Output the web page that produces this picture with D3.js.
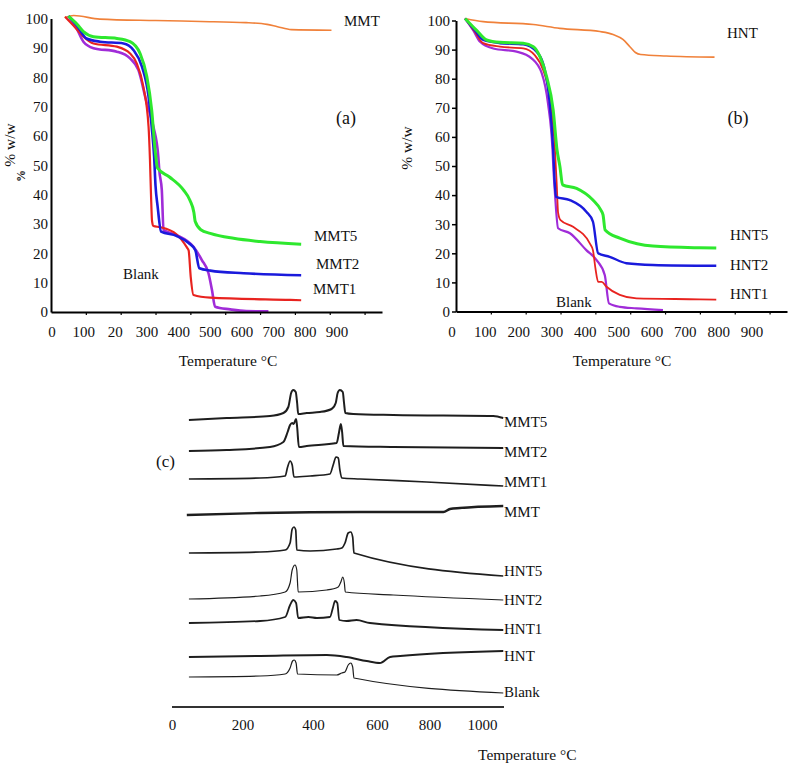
<!DOCTYPE html>
<html>
<head>
<meta charset="utf-8">
<script src="https://cdn.jsdelivr.net/npm/d3@7"></script>
<style>
body { margin: 0; background: #fff; }
text { font-family: "Liberation Serif", "Times New Roman", serif; fill: #111; }
</style>
</head>
<body>
<svg width="796" height="772"></svg>
<script>
// ---- data: TGA, panel (a) [temperature, % w/w]
var mmtA = [[40,100.3],[65,101],[140,99.8],[300,99.3],[430,99.0],[560,98.6],[620,98.0],[650,97.2],[690,96.2],[805,96.0]];
var mmt5A = [[50,100.8],[75,98],[93,95.5],[122,93.8],[189,93.2],[227,92.1],[256,88],[275,80.2],[289,68.8],[299,55],[306,49],[340,46],[380,41.6],[399,38],[410,34],[414,30.8],[430,28],[457,26.8],[524,25.1],[600,24],[718,23.1]];
var mmt2A = [[50,100.8],[75,97.5],[102,93.2],[141,92.1],[208,91.5],[237,89.2],[261,83.6],[280,73.4],[289,63.1],[296,52.9],[300,43],[306,36],[316,27.4],[361,25.9],[395,23.5],[414,21.1],[426,14.9],[457,14.1],[553,13.2],[718,12.5]];
var mmt1A = [[40,100.6],[65,97.5],[93,93.8],[122,91.5],[189,90.4],[227,88.1],[246,84.7],[265,76.8],[280,63.1],[284,52],[287,40],[290,31],[294,29.3],[313,28.9],[360,26.5],[390,22],[395,21],[401,12],[409,5.8],[457,4.9],[687,4.1],[718,4.0]];
var blankA = [[50,100.8],[70,97.5],[93,92.1],[122,89.9],[189,88.7],[227,86.4],[251,82.4],[275,71.1],[294,63.1],[308,52.9],[311,48],[318,41.6],[323,27.9],[361,26.2],[409,22.2],[433,17.7],[452,13.2],[462,7.5],[471,1.8],[514,0.9],[560,0.3],[624,0.2]];

// ---- data: TGA, panel (b)
var hntB = [[26,100.7],[78,99.6],[222,98.6],[298,97.3],[413,96.2],[451,95.2],[479,93.5],[499,91],[515,89],[530,88.3],[604,87.8],[742,87.4]];
var hnt5B = [[26,100.7],[60,96.5],[88,93.3],[126,92.5],[193,92.2],[222,91],[241,87.6],[260,80.7],[279,69.2],[290,55.5],[298,50],[306,43.5],[346,42.3],[393,38.3],[415,35],[422,33.2],[428,28],[470,25.2],[520,23.3],[565,22.5],[699,21.9],[747,21.8]];
var hnt2B = [[26,100.7],[55,96.5],[78,93.3],[126,92.2],[193,91.8],[231,89.3],[255,83],[269,71.5],[279,55.5],[283,45],[287,39.4],[327,38.3],[374,34.3],[393,30.9],[408,20],[441,18.8],[489,16.6],[565,16],[747,15.7]];
var hnt1B = [[26,100.7],[55,96],[78,92.2],[126,91],[193,90.4],[226,88.1],[250,83],[269,73.8],[284,55.5],[289,44],[293,34],[300,31.4],[336,29.1],[384,23.4],[393,21.1],[400,15],[408,10.2],[418,10.2],[432,8.5],[470,5.7],[518,4.5],[699,4.2],[747,4.1]];
var blankB = [[26,100.7],[50,96.5],[69,92.7],[107,90.4],[174,89.3],[217,87],[246,81.9],[264,71.5],[277,55.5],[280,48],[284,40.6],[293,28.6],[327,26.9],[374,21.1],[403,17.7],[427,12.5],[439,2.8],[470,1.6],[518,1.1],[594,0.5]];

// ---- data: DTG, panel (c) [temperature, signal (arbitrary, stacked)]
var dtgMMT5 = [[48,287],[155,289],[278,291],[316,294],[330,300],[338,314],[344,317],[351,315],[355,304],[358,293],[382,294],[422,295],[458,298],[471,304],[477,314],[484,317],[493,315],[497,304],[501,294],[526,293],[662,292],[1043,291],[1081,289]];
var dtgMMT2 = [[48,256],[155,257],[278,260],[316,265],[328,275],[335,282],[341,284],[345,283],[352,288],[355,280],[360,260],[382,261],[474,264],[481,274],[487,283],[491,275],[495,261],[662,260],[1081,259]];
var dtgMMT1 = [[48,228],[250,229],[321,231],[328,240],[335,246],[341,242],[346,230],[392,231],[453,233],[463,242],[472,250],[479,249],[484,237],[490,229],[547,228],[789,225],[1081,221]];
var dtgMMT = [[42,192],[250,194],[547,195],[853,195],[878,198],[916,199],[1081,201]];
var dtgHNT5 = [[48,154],[250,155],[321,157],[335,164],[341,178],[346,180],[351,177],[354,157],[392,156],[474,158],[490,159],[500,164],[510,174],[518,175],[524,170],[528,154],[1081,131]];
var dtgHNT2 = [[48,108],[250,111],[321,115],[335,124],[341,137],[349,142],[354,137],[358,115],[443,117],[479,120],[487,125],[493,130],[498,124],[501,115],[662,112],[1081,107]];
var dtgHNT1 = [[48,84],[250,86],[321,90],[335,102],[344,107],[352,104],[358,89],[387,90],[412,89],[453,90],[462,99],[469,106],[476,104],[482,87],[505,86],[536,87],[578,84],[1081,77]];
var dtgHNT = [[48,50],[250,51],[443,52],[505,50],[568,46],[611,44],[650,50],[688,51],[1081,56]];
var dtgBlank = [[48,30],[250,31],[321,33],[335,39],[342,46],[347,47],[352,44],[356,33],[474,32],[490,34],[500,35],[510,42],[518,44],[524,40],[528,29],[1081,14]];

// ---- ticks / labels
var yTicks = [0,10,20,30,40,50,60,70,80,90,100];
var xTickMarks = [100,200,300,400,500,600,700,800,900];
var xLabelsA = ["0","100","20","300","400","500","600","700","800","900"];
var xLabelsB = ["0","100","200","300","400","500","600","700","800","900"];
var dtgTicks = [0,200,400,600,800,1000];

var svg = d3.select("svg");

var colors = { clay: "#f0813a", c5: "#2ee82e", c2: "#1a1adc", c1: "#e8231f", blank: "#a02cd8" };

function drawTga(o) {
    var g = svg.append("g");
    var x = d3.scaleLinear().domain([0, 950]).range([o.x0, o.x0 + 331]);
    var y = d3.scaleLinear().domain([0, 100]).range([o.y0, o.y100]);

    var line = d3.line()
        .x(function(d) { return x(d[0]); })
        .y(function(d) { return y(d[1]); })
        .curve(d3.curveMonotoneX);

    g.selectAll("path.s")
        .data(o.series)
        .enter()
        .append("path")
        .attr("class", "s")
        .attr("d", function(d) { return line(d.values); })
        .attr("fill", "none")
        .attr("stroke", function(d) { return d.color; })
        .attr("stroke-width", function(d) { return d.width; })
        .attr("stroke-linejoin", "round");

    var yAxis = g.append("g")
        .attr("transform", "translate(" + o.x0 + ",0)")
        .call(d3.axisLeft(y).tickValues(yTicks).tickSize(o.yTick).tickSizeOuter(0).tickPadding(o.yTick ? 2 : 3));
    yAxis.select(".domain").attr("stroke", "#000").attr("stroke-width", 2);
    yAxis.selectAll(".tick line").attr("stroke", "#000").attr("stroke-width", 1.5);
    yAxis.selectAll("text").style("font-size", "15px");

    var xAxis = g.append("g")
        .attr("transform", "translate(0," + o.y0 + ")")
        .call(d3.axisBottom(x).tickValues(xTickMarks).tickFormat("").tickSize(3).tickSizeOuter(0));
    xAxis.select(".domain").attr("stroke", "#000").attr("stroke-width", 2);
    xAxis.selectAll(".tick line").attr("stroke", "#000").attr("stroke-width", 1.2);

    var lx = d3.scalePoint().domain(o.xLabels).range(o.labelRange);
    g.selectAll("text.xl")
        .data(o.xLabels)
        .enter()
        .append("text")
        .attr("class", "xl")
        .attr("x", function(d) { return lx(d); })
        .attr("y", 337)
        .attr("text-anchor", "middle")
        .style("font-size", "15px")
        .text(function(d) { return d; });

    g.append("text")
        .attr("x", o.titleX)
        .attr("y", 366)
        .attr("text-anchor", "middle")
        .style("font-size", "15.5px")
        .text("Temperature °C");

    g.append("text")
        .attr("transform", "translate(" + o.yTitleX + "," + o.yTitleY + ") rotate(-90)")
        .attr("text-anchor", "middle")
        .style("font-size", "15.5px")
        .text("% w/w");

    o.notes.forEach(function(n) {
        g.append("text")
            .attr("x", n[1])
            .attr("y", n[2])
            .attr("dy", "0.35em")
            .attr("text-anchor", n[3] || "start")
            .style("font-size", n[4] || "15px")
            .text(n[0]);
    });
    return g;
}

var gA = drawTga({
    x0: 51, y0: 312, y100: 18.5, yTick: 0,
    xLabels: xLabelsA, labelRange: [52, 337],
    titleX: 228, yTitleX: 15, yTitleY: 145,
    series: [
        { values: mmtA, color: colors.clay, width: 1.6 },
        { values: blankA, color: colors.blank, width: 2.6 },
        { values: mmt1A, color: colors.c1, width: 2.2 },
        { values: mmt2A, color: colors.c2, width: 2.6 },
        { values: mmt5A, color: colors.c5, width: 3 }
    ],
    notes: [["MMT", 344, 21], ["MMT5", 314, 236], ["MMT2", 316, 264], ["MMT1", 313, 289],
            ["Blank", 123, 274], ["(a)", 346, 118, "middle", "18px"]]
});
// stray "%" below the axis title, as in the source
gA.append("text")
    .attr("transform", "translate(25,176) rotate(-90)")
    .attr("text-anchor", "middle")
    .style("font-size", "12px")
    .style("font-weight", "bold")
    .text("%");

drawTga({
    x0: 456, y0: 311.5, y100: 20.5, yTick: 4,
    xLabels: xLabelsB, labelRange: [452, 752],
    titleX: 622, yTitleX: 412, yTitleY: 148,
    series: [
        { values: hntB, color: colors.clay, width: 1.6 },
        { values: blankB, color: colors.blank, width: 2.2 },
        { values: hnt1B, color: colors.c1, width: 1.8 },
        { values: hnt2B, color: colors.c2, width: 2.4 },
        { values: hnt5B, color: colors.c5, width: 3 }
    ],
    notes: [["HNT", 727, 33], ["HNT5", 730, 235], ["HNT2", 730, 265], ["HNT1", 730, 294],
            ["Blank", 556, 302], ["(b)", 738, 118, "middle", "18px"]]
});

// ---- panel (c): stacked DTG traces
var dtgSeries = [
    { name: "MMT5", values: dtgMMT5, width: 2, shift: 4 },
    { name: "MMT2", values: dtgMMT2, width: 2, shift: 4 },
    { name: "MMT1", values: dtgMMT1, width: 1.7, shift: -4 },
    { name: "MMT", values: dtgMMT, width: 2.4, shift: 6 },
    { name: "HNT5", values: dtgHNT5, width: 1.7, shift: -5 },
    { name: "HNT2", values: dtgHNT2, width: 1.2, shift: 0 },
    { name: "HNT1", values: dtgHNT1, width: 1.8, shift: -1 },
    { name: "HNT", values: dtgHNT, width: 2, shift: 5 },
    { name: "Blank", values: dtgBlank, width: 1.2, shift: -1 }
];

var xC = d3.scaleLinear().domain([0, 400, 600, 1000]).range([172, 313, 377, 482]);
var yC = d3.scaleLinear().domain([0, 330]).range([707, 377]);

var gC = svg.append("g");
var lineC = d3.line()
    .x(function(d) { return xC(d[0]); })
    .y(function(d) { return yC(d[1]); })
    .curve(d3.curveMonotoneX);

gC.selectAll("path.dtg")
    .data(dtgSeries)
    .enter()
    .append("path")
    .attr("class", "dtg")
    .attr("d", function(d) { return lineC(d.values); })
    .attr("fill", "none")
    .attr("stroke", "#1e1e1e")
    .attr("stroke-width", function(d) { return d.width; })
    .attr("stroke-linejoin", "round");

gC.selectAll("text.dl")
    .data(dtgSeries)
    .enter()
    .append("text")
    .attr("class", "dl")
    .attr("x", 504)
    .attr("y", function(d) { return yC(d.values[d.values.length - 1][1]) + d.shift; })
    .attr("dy", "0.35em")
    .style("font-size", "15px")
    .text(function(d) { return d.name; });

var axC = gC.append("g")
    .attr("transform", "translate(0,707)")
    .call(d3.axisBottom(xC).tickValues(dtgTicks).tickFormat(d3.format("d")).tickSize(0).tickPadding(12));
axC.select(".domain").attr("d", "M172,0H504").attr("stroke", "#333").attr("stroke-width", 2);
axC.selectAll("text").style("font-size", "15px");

gC.append("text")
    .attr("x", 478)
    .attr("y", 760)
    .style("font-size", "15.5px")
    .text("Temperature °C");

gC.append("text")
    .attr("x", 156)
    .attr("y", 467)
    .style("font-size", "17px")
    .text("(c)");
</script>
</body>
</html>
